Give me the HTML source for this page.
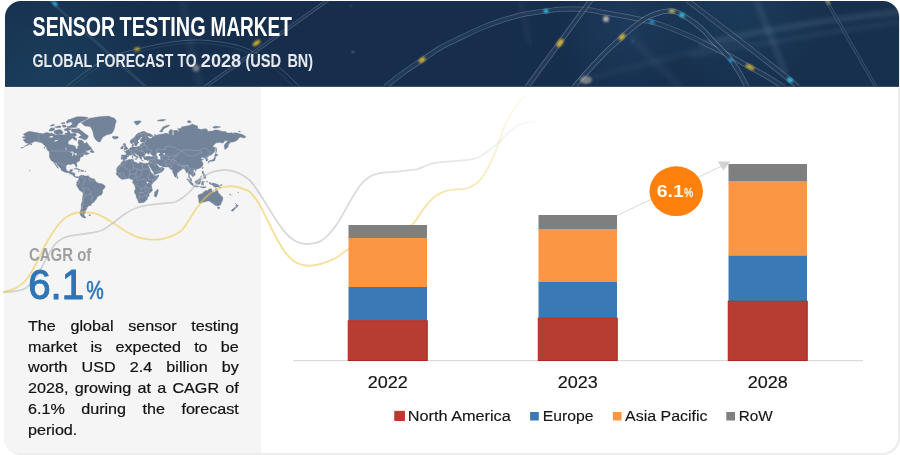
<!DOCTYPE html>
<html lang="en">
<head>
<meta charset="utf-8">
<title>Sensor Testing Market</title>
<style>
html,body{margin:0;padding:0;background:#fff;}
body{width:900px;height:455px;position:relative;overflow:hidden;font-family:"Liberation Sans",sans-serif;}
svg{position:absolute;left:0;top:0;display:block;}
.para{position:absolute;left:28.3px;top:0;width:193.4px;height:455px;transform-origin:0 0;transform:scaleX(1.09);font-size:14.8px;line-height:20.9px;color:#111;-webkit-text-stroke:0.2px #111;}
.para div{position:absolute;left:0;width:193.4px;text-align:justify;text-align-last:justify;white-space:nowrap;height:20.9px;}
.para div.last{text-align-last:left;}
text{font-family:"Liberation Sans",sans-serif;}
</style>
</head>
<body>
<svg width="900" height="455" viewBox="0 0 900 455">
<defs>
  <clipPath id="card"><rect x="4" y="1" width="895" height="453" rx="16" ry="16"/></clipPath>
  <clipPath id="bannerclip"><path d="M5 86.5V17A16 16 0 0 1 21 1H883A16 16 0 0 1 899 17V86.5Z"/></clipPath>
  <linearGradient id="bg" x1="0" y1="0" x2="1" y2="0">
    <stop offset="0" stop-color="#17314f"/>
    <stop offset="0.3" stop-color="#162e4c"/>
    <stop offset="0.55" stop-color="#162d4c"/>
    <stop offset="0.8" stop-color="#17304e"/>
    <stop offset="1" stop-color="#17304d"/>
  </linearGradient>
  <radialGradient id="glowL" cx="50" cy="95" r="110" gradientUnits="userSpaceOnUse">
    <stop offset="0" stop-color="#1d4463" stop-opacity="0.7"/>
    <stop offset="1" stop-color="#1f4a6b" stop-opacity="0"/>
  </radialGradient>
  <radialGradient id="glowT" cx="740" cy="0" r="90" gradientUnits="userSpaceOnUse">
    <stop offset="0" stop-color="#1d4262" stop-opacity="0.6"/>
    <stop offset="1" stop-color="#1f4566" stop-opacity="0"/>
  </radialGradient>
  <radialGradient id="glowM" cx="625" cy="25" r="70" gradientUnits="userSpaceOnUse">
    <stop offset="0" stop-color="#244870" stop-opacity="0.45"/>
    <stop offset="1" stop-color="#244870" stop-opacity="0"/>
  </radialGradient>
  <linearGradient id="fadeY" x1="0" y1="0" x2="530" y2="0" gradientUnits="userSpaceOnUse">
    <stop offset="0" stop-color="#f0c748" stop-opacity="0.56"/>
    <stop offset="0.5" stop-color="#f0c748" stop-opacity="0.56"/>
    <stop offset="0.8" stop-color="#f0c748" stop-opacity="0.5"/>
    <stop offset="0.9" stop-color="#f0c748" stop-opacity="0.36"/>
    <stop offset="1" stop-color="#f0c748" stop-opacity="0.03"/>
  </linearGradient>
  <linearGradient id="fadeG" x1="0" y1="0" x2="540" y2="0" gradientUnits="userSpaceOnUse">
    <stop offset="0" stop-color="#bababa" stop-opacity="0.58"/>
    <stop offset="0.5" stop-color="#bababa" stop-opacity="0.58"/>
    <stop offset="0.7" stop-color="#bababa" stop-opacity="0.5"/>
    <stop offset="0.85" stop-color="#bababa" stop-opacity="0.34"/>
    <stop offset="1" stop-color="#bababa" stop-opacity="0.06"/>
  </linearGradient>
  <filter id="blur2" x="-20%" y="-20%" width="140%" height="140%"><feGaussianBlur stdDeviation="2"/></filter>
  <filter id="blur1" x="-50%" y="-50%" width="200%" height="200%"><feGaussianBlur stdDeviation="1.2"/></filter>
</defs>

<!-- card -->
<rect x="4" y="1" width="896" height="454" rx="17" ry="17" fill="#ededed"/>
<rect x="4" y="1" width="894" height="452" rx="16" ry="16" fill="#ffffff"/>
<g clip-path="url(#card)">
  <rect x="4" y="87" width="257" height="366" fill="#f5f5f5"/>
</g>

<!-- banner -->
<g clip-path="url(#bannerclip)">
  <rect x="4" y="0" width="896" height="87" fill="url(#bg)"/>
  <rect x="4" y="0" width="896" height="87" fill="url(#glowL)"/>
  <rect x="4" y="0" width="896" height="87" fill="url(#glowT)"/>
  <rect x="4" y="0" width="896" height="87" fill="url(#glowM)"/>
  <g id="streaks" fill="none" stroke-linecap="butt"><path d="M700 44 Q800 22 900 12" stroke="#a8c0d8" stroke-opacity="0.13" stroke-width="6" filter="url(#blur2)"/><path d="M690 56 Q800 36 900 22" stroke="#a8c0d8" stroke-opacity="0.08" stroke-width="5" filter="url(#blur2)"/><path d="M756 0 L786 75" stroke="#a8c0d8" stroke-opacity="0.12" stroke-width="6" filter="url(#blur2)"/><path d="M520 0 L530 45" stroke="#a8c0d8" stroke-opacity="0.05" stroke-width="6" filter="url(#blur2)"/><path d="M630 36 L680 87" stroke="#a8c0d8" stroke-opacity="0.05" stroke-width="8" filter="url(#blur2)"/><path d="M580 80 Q660 60 740 40" stroke="#a8c0d8" stroke-opacity="0.05" stroke-width="6" filter="url(#blur2)"/><path d="M182 0 L200 87" stroke="#a8c0d8" stroke-opacity="0.06" stroke-width="8" filter="url(#blur2)"/><path d="M49 0 L146 87" stroke="#cfe0f0" stroke-opacity="0.16" stroke-width="2.4"/><path d="M49 0 L146 87" stroke="#172f4d" stroke-opacity="0.8" stroke-width="1.0"/><path d="M66.0 87.0C69.2 84.5 78.7 76.5 85.0 72.0C91.3 67.5 98.2 63.1 104.0 60.0C109.8 56.9 114.5 55.3 120.0 53.5C125.5 51.7 130.3 50.6 137.0 49.0C143.7 47.4 152.8 45.3 160.0 44.0C167.2 42.7 173.3 41.7 180.0 41.0C186.7 40.3 193.3 39.8 200.0 40.0C206.7 40.2 213.3 41.0 220.0 42.0C226.7 43.0 233.3 43.8 240.0 46.0C246.7 48.2 253.3 51.3 260.0 55.0C266.7 58.7 273.3 62.7 280.0 68.0C286.7 73.3 296.7 83.8 300.0 87.0" stroke="#cfe0f0" stroke-opacity="0.22" stroke-width="1.0"/><path d="M71.0 87.0C74.0 84.8 83.0 77.7 89.0 73.5C95.0 69.3 101.3 65.0 107.0 62.0C112.7 59.0 117.5 57.2 123.0 55.5C128.5 53.8 133.5 53.0 140.0 51.5C146.5 50.0 155.2 47.8 162.0 46.5C168.8 45.2 174.7 44.4 181.0 43.8C187.3 43.2 193.7 42.8 200.0 43.0C206.3 43.2 212.7 44.0 219.0 45.0C225.3 46.0 231.7 46.9 238.0 49.0C244.3 51.1 250.7 54.0 257.0 57.5C263.3 61.0 269.8 65.1 276.0 70.0C282.2 74.9 291.0 84.2 294.0 87.0" stroke="#cfe0f0" stroke-opacity="0.1" stroke-width="1.0"/><path d="M205 87 L328 0" stroke="#cfe0f0" stroke-opacity="0.26" stroke-width="3.4"/><path d="M205 87 L328 0" stroke="#172f4d" stroke-opacity="0.8" stroke-width="2.0"/><path d="M385.0 87.0C388.0 84.7 396.8 77.5 403.0 73.0C409.2 68.5 415.8 64.2 422.0 60.0C428.2 55.8 433.7 51.7 440.0 48.0C446.3 44.3 453.3 41.2 460.0 38.0C466.7 34.8 473.3 31.3 480.0 28.5C486.7 25.7 492.8 23.3 500.0 21.0C507.2 18.7 515.3 16.2 523.0 14.5C530.7 12.8 539.8 11.9 546.0 11.0C552.2 10.1 555.2 9.6 560.0 9.3C564.8 9.0 570.0 8.9 575.0 9.0C580.0 9.1 585.8 9.5 590.0 10.0C594.2 10.5 594.0 10.9 600.0 12.0C606.0 13.1 617.3 14.8 626.0 16.5C634.7 18.2 645.3 20.3 652.0 22.0C658.7 23.7 661.3 24.8 666.0 26.5C670.7 28.2 675.2 30.0 680.0 32.0C684.8 34.0 690.0 36.2 695.0 38.5C700.0 40.8 704.2 43.1 710.0 46.0C715.8 48.9 723.7 52.7 730.0 56.0C736.3 59.3 742.0 62.7 748.0 66.0C754.0 69.3 760.0 72.5 766.0 76.0C772.0 79.5 781.0 85.2 784.0 87.0" stroke="#cfe0f0" stroke-opacity="0.3" stroke-width="5.0"/><path d="M385.0 87.0C388.0 84.7 396.8 77.5 403.0 73.0C409.2 68.5 415.8 64.2 422.0 60.0C428.2 55.8 433.7 51.7 440.0 48.0C446.3 44.3 453.3 41.2 460.0 38.0C466.7 34.8 473.3 31.3 480.0 28.5C486.7 25.7 492.8 23.3 500.0 21.0C507.2 18.7 515.3 16.2 523.0 14.5C530.7 12.8 539.8 11.9 546.0 11.0C552.2 10.1 555.2 9.6 560.0 9.3C564.8 9.0 570.0 8.9 575.0 9.0C580.0 9.1 585.8 9.5 590.0 10.0C594.2 10.5 594.0 10.9 600.0 12.0C606.0 13.1 617.3 14.8 626.0 16.5C634.7 18.2 645.3 20.3 652.0 22.0C658.7 23.7 661.3 24.8 666.0 26.5C670.7 28.2 675.2 30.0 680.0 32.0C684.8 34.0 690.0 36.2 695.0 38.5C700.0 40.8 704.2 43.1 710.0 46.0C715.8 48.9 723.7 52.7 730.0 56.0C736.3 59.3 742.0 62.7 748.0 66.0C754.0 69.3 760.0 72.5 766.0 76.0C772.0 79.5 781.0 85.2 784.0 87.0" stroke="#172f4d" stroke-opacity="0.8" stroke-width="3.6"/><path d="M527 87 L591 0" stroke="#cfe0f0" stroke-opacity="0.34" stroke-width="5.0"/><path d="M527 87 L591 0" stroke="#172f4d" stroke-opacity="0.8" stroke-width="3.6"/><path d="M574.0 87.0C576.2 84.5 582.7 76.8 587.0 72.0C591.3 67.2 596.0 62.2 600.0 58.0C604.0 53.8 607.3 50.5 611.0 47.0C614.7 43.5 618.7 40.0 622.0 37.0C625.3 34.0 628.0 31.5 631.0 29.0C634.0 26.5 636.8 24.2 640.0 22.0C643.2 19.8 646.7 17.6 650.0 16.0C653.3 14.4 657.3 13.3 660.0 12.5C662.7 11.7 664.0 11.4 666.0 11.2C668.0 10.9 670.2 10.8 672.0 11.0C673.8 11.2 675.3 11.6 677.0 12.3C678.7 13.0 680.0 13.9 682.0 15.0C684.0 16.1 686.7 17.5 689.0 19.0C691.3 20.5 693.5 22.0 696.0 24.0C698.5 26.0 701.3 28.3 704.0 31.0C706.7 33.7 709.0 36.8 712.0 40.0C715.0 43.2 718.8 46.7 722.0 50.0C725.2 53.3 728.2 56.3 731.0 60.0C733.8 63.7 736.3 67.5 739.0 72.0C741.7 76.5 745.7 84.5 747.0 87.0" stroke="#cfe0f0" stroke-opacity="0.36" stroke-width="5.0"/><path d="M574.0 87.0C576.2 84.5 582.7 76.8 587.0 72.0C591.3 67.2 596.0 62.2 600.0 58.0C604.0 53.8 607.3 50.5 611.0 47.0C614.7 43.5 618.7 40.0 622.0 37.0C625.3 34.0 628.0 31.5 631.0 29.0C634.0 26.5 636.8 24.2 640.0 22.0C643.2 19.8 646.7 17.6 650.0 16.0C653.3 14.4 657.3 13.3 660.0 12.5C662.7 11.7 664.0 11.4 666.0 11.2C668.0 10.9 670.2 10.8 672.0 11.0C673.8 11.2 675.3 11.6 677.0 12.3C678.7 13.0 680.0 13.9 682.0 15.0C684.0 16.1 686.7 17.5 689.0 19.0C691.3 20.5 693.5 22.0 696.0 24.0C698.5 26.0 701.3 28.3 704.0 31.0C706.7 33.7 709.0 36.8 712.0 40.0C715.0 43.2 718.8 46.7 722.0 50.0C725.2 53.3 728.2 56.3 731.0 60.0C733.8 63.7 736.3 67.5 739.0 72.0C741.7 76.5 745.7 84.5 747.0 87.0" stroke="#172f4d" stroke-opacity="0.8" stroke-width="3.6"/><path d="M687 0 L700 10 Q745 44 790 80 L798 87" stroke="#cfe0f0" stroke-opacity="0.3" stroke-width="5.0"/><path d="M687 0 L700 10 Q745 44 790 80 L798 87" stroke="#172f4d" stroke-opacity="0.8" stroke-width="3.6"/><path d="M826 0 L876 87" stroke="#cfe0f0" stroke-opacity="0.22" stroke-width="3.2"/><path d="M826 0 L876 87" stroke="#172f4d" stroke-opacity="0.8" stroke-width="1.8000000000000003"/><ellipse cx="55" cy="3.6" rx="3" ry="1.6" fill="#35c6ea" opacity="0.95" transform="rotate(40 55 3.6)" filter="url(#blur1)"/><ellipse cx="137" cy="49" rx="3.0" ry="1.8" fill="#d4b234" opacity="0.9" transform="rotate(-15 137 49)" filter="url(#blur1)"/><ellipse cx="256.5" cy="43" rx="4.4" ry="2.1" fill="#dcbc36" opacity="0.95" transform="rotate(-35 256.5 43)" filter="url(#blur1)"/><ellipse cx="196" cy="68" rx="3.5" ry="3.5" fill="#d8c8b8" opacity="0.45" transform="rotate(0 196 68)" filter="url(#blur1)"/><ellipse cx="353" cy="52" rx="1.0" ry="1.0" fill="#b0c0d8" opacity="0.7" transform="rotate(0 353 52)" filter="url(#blur1)"/><ellipse cx="351" cy="6" rx="0.8" ry="0.8" fill="#b0c0d8" opacity="0.5" transform="rotate(0 351 6)" filter="url(#blur1)"/><ellipse cx="422" cy="60" rx="3.6" ry="2.2" fill="#dcbc36" opacity="0.95" transform="rotate(-35 422 60)" filter="url(#blur1)"/><ellipse cx="546" cy="11" rx="2.6" ry="2.0" fill="#35c6ea" opacity="0.95" transform="rotate(0 546 11)" filter="url(#blur1)"/><ellipse cx="560" cy="43" rx="4.6" ry="2.4" fill="#dcbc36" opacity="0.95" transform="rotate(-55 560 43)" filter="url(#blur1)"/><ellipse cx="606" cy="19" rx="3" ry="3" fill="#f0dcc8" opacity="0.7" transform="rotate(0 606 19)" filter="url(#blur1)"/><ellipse cx="622" cy="37" rx="3.8" ry="2.2" fill="#dcbc36" opacity="0.95" transform="rotate(-45 622 37)" filter="url(#blur1)"/><ellipse cx="652" cy="22" rx="2.6" ry="1.8" fill="#2aa8e8" opacity="0.95" transform="rotate(20 652 22)" filter="url(#blur1)"/><ellipse cx="633" cy="41.6" rx="0.9" ry="0.9" fill="#2aa8e8" opacity="0.8" transform="rotate(0 633 41.6)" filter="url(#blur1)"/><ellipse cx="586" cy="80" rx="6" ry="4" fill="#f0dcc8" opacity="0.45" transform="rotate(0 586 80)" filter="url(#blur1)"/><ellipse cx="672" cy="11" rx="3.5" ry="1.8" fill="#e8d060" opacity="0.8" transform="rotate(5 672 11)" filter="url(#blur1)"/><ellipse cx="682" cy="15" rx="3" ry="2.0" fill="#35c6ea" opacity="0.95" transform="rotate(30 682 15)" filter="url(#blur1)"/><ellipse cx="731" cy="60" rx="2.6" ry="1.7" fill="#2aa8e8" opacity="0.95" transform="rotate(50 731 60)" filter="url(#blur1)"/><ellipse cx="750" cy="67" rx="4.8" ry="2.0" fill="#d4b234" opacity="0.95" transform="rotate(28 750 67)" filter="url(#blur1)"/><ellipse cx="790" cy="80" rx="3.2" ry="2.2" fill="#35c6ea" opacity="0.95" transform="rotate(30 790 80)" filter="url(#blur1)"/><ellipse cx="828" cy="2" rx="3" ry="1.6" fill="#e8d060" opacity="0.6" transform="rotate(60 828 2)" filter="url(#blur1)"/></g>
</g>
<rect x="5" y="86" width="894" height="1" fill="#102038" opacity="0.6"/>

<!-- title -->
<text y="36" font-size="27" font-weight="bold" fill="#ffffff"><tspan x="32.6" textLength="82.6" lengthAdjust="spacingAndGlyphs">SENSOR</tspan> <tspan x="119.6" textLength="86" lengthAdjust="spacingAndGlyphs">TESTING</tspan> <tspan x="210.6" textLength="81.2" lengthAdjust="spacingAndGlyphs">MARKET</tspan></text>
<text y="66.8" font-size="18.6" font-weight="bold" fill="#e6e9ee"><tspan x="32.6" textLength="59.4" lengthAdjust="spacingAndGlyphs">GLOBAL</tspan> <tspan x="96" textLength="77.2" lengthAdjust="spacingAndGlyphs">FORECAST</tspan> <tspan x="177.6" textLength="19" lengthAdjust="spacingAndGlyphs">TO</tspan> <tspan x="200.8" textLength="40.4" lengthAdjust="spacingAndGlyphs">2028</tspan> <tspan x="245.4" textLength="35.8" lengthAdjust="spacingAndGlyphs">(USD</tspan> <tspan x="287.4" textLength="25.6" lengthAdjust="spacingAndGlyphs">BN)</tspan></text>

<!-- world map -->
<path d="M22.0 137.1L25.8 136.2L23.2 134.4L25.8 132.7L29.2 131.3L33.2 132.1L38.9 133.1L42.6 133.7L47.0 132.5L49.5 133.2L52.0 133.2L55.1 134.7L59.5 134.7L64.5 134.7L67.0 134.2L67.6 131.1L69.5 131.6L70.8 133.7L73.9 133.2L75.8 133.2L76.4 135.7L73.2 136.7L72.0 138.6L68.9 140.8L67.9 143.0L69.2 144.7L72.0 145.1L75.4 146.3L75.8 148.3L77.0 149.2L77.6 148.7L77.6 146.7L78.9 145.1L78.2 143.4L78.2 142.1L78.6 140.1L81.1 140.1L83.2 141.3L83.6 143.0L85.1 143.6L86.4 141.9L88.2 144.3L89.5 146.3L92.0 148.3L90.1 149.9L86.4 150.2L85.1 151.0L82.9 152.5L85.1 151.2L86.7 151.1L86.4 152.5L88.9 153.2L89.5 152.8L88.9 153.9L87.6 154.3L85.8 155.0L85.1 153.9L83.2 155.0L83.2 156.3L80.8 157.1L79.8 158.8L79.8 160.7L78.2 161.6L76.4 163.1L77.0 165.9L76.8 167.0L76.1 166.9L75.2 165.3L74.5 164.0L73.2 163.8L71.4 163.9L71.2 164.7L70.1 164.5L68.2 164.3L66.4 165.3L66.1 166.9L65.9 168.7L67.0 170.8L67.9 171.3L69.8 171.1L70.4 169.6L72.6 169.3L72.3 171.1L71.7 172.6L73.2 172.7L74.9 173.2L74.8 175.6L75.8 176.8L77.3 176.5L78.6 177.0L78.2 177.6L77.0 177.7L76.1 177.5L75.1 177.2L73.6 176.2L72.3 174.4L69.8 173.8L68.2 172.6L66.7 172.8L64.5 172.0L61.4 170.5L61.1 169.0L59.5 167.2L57.0 164.7L56.4 163.2L55.3 163.1L55.4 164.0L57.0 165.9L58.2 167.8L58.6 168.4L57.0 167.5L55.8 165.6L54.5 163.7L53.8 162.4L52.9 161.5L51.7 161.1L50.8 159.6L49.6 157.8L49.3 156.1L49.5 153.2L49.1 151.5L50.1 151.0L48.9 150.2L47.0 149.1L45.8 146.7L44.5 145.5L42.6 143.4L40.8 142.6L38.2 142.1L35.8 141.3L33.9 141.7L32.0 143.0L30.8 143.4L28.2 145.1L25.1 146.3L23.9 146.7L27.0 144.7L28.6 143.2L25.8 143.0L23.9 140.8L23.2 139.5L26.4 138.6L23.9 138.1ZM81.4 122.9L84.5 121.0L89.5 118.3L98.9 116.8L108.2 116.1L114.5 118.3L116.4 121.0L115.1 124.8L114.5 128.3L113.2 131.6L111.4 133.7L107.0 134.7L103.2 136.7L101.4 139.5L100.1 142.1L98.2 141.7L96.4 140.4L94.8 138.6L93.6 135.7L93.2 132.7L92.0 129.5L90.1 126.6L85.1 126.0L82.6 124.2ZM77.0 128.9L79.5 129.5L82.6 131.6L85.1 133.7L88.2 135.7L88.2 137.1L86.4 139.5L84.5 139.9L82.0 138.6L78.2 137.6L81.4 135.2L78.2 132.7L73.9 132.7L71.4 131.6L71.4 128.9L73.9 128.9ZM70.8 125.4L77.0 126.0L78.2 123.6L82.0 121.6L87.0 118.9L88.2 117.5L83.2 116.8L77.0 116.8L70.8 118.9L69.5 121.0L72.6 123.6ZM53.9 131.1L57.0 130.0L59.5 129.5L61.4 130.0L63.2 132.7L61.4 134.2L57.0 134.2L54.5 133.2ZM48.9 130.5L50.8 128.0L54.5 128.3L54.5 130.0L52.0 131.1L49.5 131.1ZM67.0 127.2L70.1 127.8L77.0 127.2L75.8 126.0L70.8 125.4ZM54.5 127.2L58.2 126.0L60.8 126.0L60.8 127.4L57.0 127.8ZM64.5 128.9L67.6 128.3L69.5 129.5L67.6 131.1L64.5 130.5ZM67.0 123.6L70.8 121.6L72.0 119.6L68.2 119.6L66.4 121.6ZM89.9 151.9L92.0 149.1L92.3 150.2L93.9 151.4L93.9 152.7L92.0 152.6ZM72.6 137.1L74.5 136.7L76.7 138.6L74.5 139.9L73.2 139.0ZM73.9 169.0L75.8 168.3L78.2 168.7L80.6 170.1L78.6 170.3L78.2 169.6L75.8 169.0ZM80.4 171.1L81.4 170.2L83.2 170.3L84.2 171.1L82.6 171.5ZM78.6 177.0L79.8 175.7L82.0 175.0L82.3 175.6L83.2 175.0L84.5 175.9L87.0 175.9L88.2 175.8L89.5 177.0L91.4 178.5L93.2 178.6L94.8 179.4L95.8 181.4L97.0 182.6L99.5 183.5L102.0 183.7L103.9 184.9L105.1 186.1L105.1 187.2L103.9 188.7L102.6 190.2L102.6 192.6L101.4 195.0L99.5 195.6L97.0 197.1L96.7 198.7L95.1 200.6L93.6 202.5L92.0 203.2L91.1 204.2L91.4 205.2L88.2 205.9L87.9 207.2L86.4 207.2L87.0 208.3L86.1 210.1L84.8 210.8L85.9 211.9L83.9 214.5L84.2 215.7L86.1 217.5L84.5 218.1L82.6 217.3L80.8 215.7L79.8 213.0L80.4 210.8L81.4 207.9L81.1 204.5L82.3 201.2L82.6 198.1L83.1 193.8L82.9 192.8L82.0 192.0L79.5 190.2L78.6 188.7L77.3 186.4L76.2 184.9L77.0 183.7L76.4 182.6L77.0 181.4L77.9 180.8L78.7 179.7L78.6 177.9ZM123.2 160.3L125.8 160.7L128.9 159.6L133.2 159.3L133.9 161.5L133.2 161.6L136.4 162.6L138.9 163.8L139.5 162.2L141.4 162.4L142.6 162.9L145.1 163.4L147.3 163.3L147.3 164.0L148.2 165.9L149.2 167.8L150.1 169.6L150.3 171.1L151.4 172.9L153.6 174.7L154.1 175.3L155.1 175.9L157.0 175.5L159.0 175.0L158.9 175.9L157.6 177.9L156.4 179.7L154.5 181.1L152.9 183.0L151.7 184.6L151.4 186.1L152.0 188.1L152.4 190.5L150.8 192.3L148.9 193.8L149.2 196.2L147.6 197.1L147.5 199.0L146.1 200.6L143.9 202.4L140.8 202.7L139.5 203.1L138.4 202.5L138.2 201.2L137.3 199.1L136.4 197.8L136.1 195.3L134.5 192.6L134.5 190.8L135.6 189.0L135.2 187.2L134.6 185.5L133.9 184.2L132.6 182.6L132.9 180.8L133.1 179.7L132.3 179.4L130.8 179.5L129.8 178.3L127.6 178.6L125.8 179.1L124.2 179.0L122.3 179.4L121.4 179.1L119.8 177.9L118.7 176.9L117.8 175.7L116.6 174.8L116.1 173.4L116.7 172.3L116.8 170.8L116.4 169.6L117.0 168.0L117.9 166.5L118.9 165.5L120.0 164.8L120.9 164.2L120.9 163.1L121.7 161.9L122.8 161.5ZM157.8 189.0L158.4 191.1L157.9 192.0L157.3 194.4L156.4 196.8L155.1 197.1L154.2 195.6L154.7 193.8L154.5 192.0L155.8 191.2L157.0 189.9ZM121.4 159.5L121.1 158.3L121.5 156.4L121.2 155.4L122.0 154.9L124.8 155.1L126.1 155.0L126.2 153.2L125.4 152.3L124.1 151.5L126.1 151.2L125.9 150.5L127.1 150.6L127.9 150.1L128.6 149.5L129.5 148.7L130.0 147.9L131.4 147.5L132.3 147.1L132.1 145.9L132.1 144.7L133.6 144.1L133.6 145.5L133.1 146.3L133.9 147.1L135.8 147.1L138.6 146.6L140.1 146.1L140.1 144.7L140.8 144.1L142.2 144.5L141.7 143.0L144.5 142.4L145.8 142.1L142.6 142.0L141.1 142.1L140.3 141.3L140.4 139.5L142.6 137.6L142.0 136.9L140.8 137.1L140.1 138.6L137.9 140.4L137.8 141.7L138.8 142.6L137.3 144.3L137.0 145.4L135.9 145.9L135.1 145.9L134.8 145.1L134.1 143.4L133.6 142.6L132.0 143.8L130.6 143.2L130.1 141.3L130.8 139.9L132.3 139.0L133.9 137.8L135.1 136.2L136.4 134.4L138.2 133.1L140.1 132.5L142.6 131.6L144.5 131.6L146.4 132.5L147.6 133.3L149.5 133.5L152.6 135.2L152.6 136.4L150.8 136.7L148.2 136.0L147.6 136.2L148.9 138.3L150.1 138.6L152.0 138.0L152.3 136.7L154.5 136.4L154.5 134.4L155.8 134.7L155.8 135.9L157.0 135.0L160.1 134.2L161.4 134.2L164.5 133.7L165.1 132.9L167.6 133.5L169.8 134.4L168.9 133.2L168.9 131.6L170.1 129.7L172.3 129.7L172.5 131.6L172.3 134.2L172.9 135.7L173.2 135.2L173.9 133.7L173.2 130.5L174.5 130.5L175.8 130.2L177.6 130.5L178.9 132.1L178.9 130.5L177.6 128.8L181.4 128.3L181.4 126.9L186.4 126.0L189.5 125.4L192.2 123.9L193.9 124.8L197.6 126.0L197.6 128.3L194.5 128.9L197.6 128.6L201.4 129.5L204.5 128.7L206.4 128.9L207.6 130.0L207.6 131.6L210.1 131.1L212.6 131.1L214.5 130.0L217.6 130.0L220.8 130.9L222.6 131.6L225.8 131.6L227.0 133.0L229.5 133.0L232.0 132.7L233.2 133.7L233.9 132.7L237.0 132.9L239.5 133.7L242.0 134.2L244.5 135.7L245.9 136.7L244.5 138.1L242.0 137.6L240.1 137.1L238.9 138.1L237.6 139.9L235.1 141.3L233.2 142.1L230.8 142.1L228.9 143.9L228.2 145.5L228.2 146.7L227.0 147.9L225.8 149.1L224.8 149.5L224.5 147.9L224.2 145.5L225.1 143.9L227.0 141.7L228.9 140.4L227.0 140.8L224.5 140.8L223.9 142.6L222.0 143.0L220.1 142.4L216.4 142.8L214.5 144.3L212.6 146.7L213.9 147.1L215.1 147.9L214.8 149.5L214.5 151.7L213.2 153.2L211.7 154.6L210.1 155.4L208.9 155.7L208.1 156.8L206.7 157.6L207.8 159.5L207.8 160.5L206.7 161.1L205.9 160.9L206.1 159.5L205.1 158.8L205.1 157.6L203.2 158.1L202.6 156.9L200.8 158.1L201.4 159.1L203.6 159.3L202.0 160.1L201.6 160.8L202.6 162.4L203.2 163.4L202.9 165.0L201.7 166.9L200.1 168.1L198.2 168.7L196.4 169.3L195.8 170.0L195.1 169.3L193.6 169.9L193.1 170.8L195.0 172.9L195.3 175.0L193.9 175.9L192.6 176.9L192.6 176.0L191.4 175.6L191.1 174.8L190.0 174.1L189.5 174.2L189.1 175.9L189.8 177.6L191.4 178.8L191.7 180.5L192.0 181.2L190.4 180.4L189.7 178.5L188.4 177.3L188.7 175.6L188.1 173.2L187.8 172.2L186.7 172.7L185.9 172.3L185.9 171.1L184.5 169.3L183.9 168.7L182.6 169.1L181.4 169.4L181.1 170.2L180.1 170.5L178.4 172.2L177.1 172.9L177.1 174.4L176.9 176.0L175.9 176.9L175.4 177.3L174.7 176.5L173.8 174.4L172.9 172.6L172.5 170.8L172.4 169.6L172.0 169.6L171.1 169.7L170.1 168.8L169.5 168.0L168.9 167.3L168.6 166.9L165.8 167.0L163.2 166.9L162.6 165.9L161.4 166.0L159.5 165.4L158.2 164.0L157.5 163.8L157.0 164.3L158.2 166.1L158.4 166.7L159.0 166.5L159.2 167.5L160.8 167.8L162.1 166.4L162.3 167.5L163.7 168.1L164.4 168.7L163.1 170.8L161.4 172.0L159.5 172.9L157.0 173.8L155.1 174.5L154.1 174.6L153.7 173.5L153.6 172.3L152.0 170.2L151.2 168.7L150.2 167.2L148.9 165.3L148.8 164.3L148.4 165.3L147.4 164.0L147.3 163.3L148.4 163.2L148.9 162.1L149.5 160.5L149.5 159.6L148.2 159.9L147.0 160.0L146.1 159.9L144.5 159.7L144.1 159.1L143.6 158.1L143.4 157.4L145.1 156.8L146.7 156.6L148.9 156.1L150.8 156.8L152.9 156.4L152.9 155.6L151.4 154.5L150.4 153.9L150.8 152.5L148.9 153.0L149.2 153.9L147.9 154.3L147.6 153.2L146.4 152.8L145.6 153.7L144.9 154.8L144.4 155.7L145.0 156.5L143.4 156.9L142.0 156.9L141.9 157.4L141.2 157.2L141.6 158.3L142.0 158.8L141.4 159.1L141.4 159.8L140.8 159.6L140.3 158.8L139.5 157.6L139.1 156.4L138.9 155.8L137.6 155.2L136.6 154.3L135.8 153.9L135.6 153.5L134.7 153.7L134.8 154.5L135.6 155.1L136.1 155.9L137.0 156.1L138.6 157.3L137.6 157.1L137.4 158.1L137.0 158.8L136.8 158.7L137.0 157.8L136.4 157.3L135.8 156.8L134.6 156.2L133.6 155.4L133.2 154.6L132.3 154.4L131.7 154.8L130.8 155.3L129.5 155.0L129.0 155.4L129.0 156.2L127.5 156.8L126.8 157.8L127.1 158.3L126.6 159.0L125.8 159.6L124.2 159.7L123.5 160.1L123.1 159.6L122.4 159.3ZM123.6 150.2L125.1 149.7L127.8 149.3L127.3 149.1L128.1 148.2L127.2 147.9L126.9 147.1L126.1 146.3L125.8 145.5L125.1 145.5L125.8 144.3L124.5 144.1L125.1 143.3L123.9 143.3L123.2 144.3L123.6 145.5L123.9 146.3L125.0 146.5L125.1 147.5L124.2 147.7L124.3 148.5L123.8 148.9L124.9 149.2L124.3 149.5ZM120.8 148.9L122.0 148.9L123.1 148.5L123.2 147.1L123.4 146.3L122.3 146.1L121.7 146.7L120.8 147.0L121.1 147.8L120.6 148.6ZM112.0 137.1L113.2 136.3L115.8 136.5L117.8 136.4L118.5 137.6L117.6 138.3L115.4 139.1L113.2 138.6L112.9 137.8ZM133.9 121.6L136.4 121.0L139.5 120.7L141.4 121.6L139.5 123.2L137.9 124.8L136.4 124.8L135.1 123.6ZM159.5 131.6L161.4 129.5L162.6 127.2L166.4 125.6L169.8 125.0L168.2 126.6L164.5 128.3L162.6 130.5L162.6 131.9L160.8 131.8ZM187.0 122.0L188.9 120.2L191.4 121.9L189.5 123.1ZM212.6 127.2L215.8 126.0L220.8 126.9L217.6 127.8L214.5 128.3ZM157.0 120.6L161.4 119.6L165.8 119.6L163.2 121.0L159.5 121.0ZM215.8 146.9L216.5 148.7L216.7 150.8L216.2 152.5L215.8 153.2L215.8 151.0L215.6 148.7ZM214.5 156.1L215.4 153.6L217.6 154.6L217.9 155.2L216.4 156.1L215.1 156.4ZM215.1 156.5L215.8 157.8L215.1 159.1L214.8 160.5L213.6 161.0L212.5 161.1L211.7 161.8L211.4 161.1L209.5 161.5L208.9 161.5L208.9 163.2L208.2 162.4L208.2 161.8L209.5 160.5L211.7 160.3L212.6 159.5L213.6 159.1L214.5 157.8L214.5 156.8ZM202.6 167.0L203.1 167.5L202.5 169.0L202.1 168.4ZM195.1 170.2L196.4 170.3L195.8 171.2L194.9 170.8ZM202.3 171.1L203.4 171.1L203.2 172.6L204.5 174.1L204.5 174.7L202.9 173.9L202.3 173.5L202.0 172.6ZM203.2 175.3L205.1 174.8L205.4 176.2L203.9 176.6ZM203.2 177.9L204.2 177.0L205.4 176.3L206.1 177.6L205.4 178.5L204.5 178.2ZM200.3 177.0L201.7 175.6L201.4 176.2L200.6 177.2ZM177.0 176.3L178.1 177.6L177.6 178.5L177.0 178.5L176.8 177.3ZM186.6 178.8L187.9 179.0L189.7 180.5L191.8 182.6L193.2 183.7L193.1 185.4L192.3 185.3L190.8 184.2L189.7 182.6L188.7 181.0L187.6 180.0ZM192.8 185.8L194.8 185.8L196.4 185.8L197.6 186.1L198.6 186.5L198.4 187.1L196.4 186.8L194.5 186.5L193.2 186.3ZM195.1 181.1L196.4 181.0L197.6 180.1L199.2 179.1L200.1 177.9L201.4 179.0L200.8 179.7L200.8 181.4L200.4 182.6L199.8 184.0L198.6 184.3L197.0 184.0L195.9 183.6L195.1 182.3ZM201.7 185.2L201.4 183.7L201.9 181.7L202.6 181.3L204.5 181.4L205.1 181.0L203.9 181.8L202.3 182.0L202.9 182.6L204.1 182.6L203.1 183.2L203.6 184.0L203.9 185.1L202.9 184.7L202.6 183.6L202.2 183.7L202.3 185.2ZM208.9 182.5L210.8 182.5L211.4 183.9L212.9 183.0L215.1 183.5L217.6 184.5L219.2 185.5L219.0 186.1L221.1 188.0L219.5 187.8L218.2 186.8L216.7 187.0L215.8 187.4L213.9 186.7L213.2 185.5L211.7 184.6L210.1 184.3L209.5 183.6ZM199.5 186.8L201.4 186.8L203.9 186.8L206.4 186.8L204.5 187.9L202.0 187.7ZM206.7 180.8L207.4 181.4L207.0 182.5L206.7 181.7ZM219.8 185.2L222.0 184.4L222.2 185.1L220.8 185.7ZM197.9 195.0L198.2 197.5L198.9 200.0L198.9 202.2L199.5 203.2L200.8 203.2L202.0 202.5L204.5 201.9L205.8 201.4L207.6 201.1L209.2 200.9L210.8 201.9L211.7 203.1L212.3 203.5L213.1 201.9L213.2 203.7L214.3 204.5L215.4 205.4L216.7 205.7L218.2 205.9L219.5 205.2L220.8 204.7L221.4 202.5L222.5 200.6L222.9 198.7L222.6 197.1L221.4 195.9L220.4 195.0L219.5 193.8L218.4 193.2L218.2 192.0L217.8 190.8L216.8 190.4L216.1 188.3L215.5 189.6L215.4 191.4L214.8 192.3L213.9 192.2L212.6 191.3L211.7 190.8L212.0 189.2L211.4 189.1L209.8 188.7L208.9 189.2L208.2 189.9L207.9 190.8L207.0 190.8L206.4 190.2L205.4 190.5L204.5 191.6L203.4 192.0L203.2 192.9L201.4 193.8L199.8 194.2L198.6 194.9ZM217.4 207.0L219.6 207.1L219.5 208.6L218.6 209.1L217.8 208.3ZM234.9 202.9L236.1 203.9L237.0 204.9L238.4 205.0L237.6 206.1L237.5 206.9L236.6 207.7L236.2 206.6L235.6 206.1L236.2 205.2L236.1 204.3ZM235.0 206.9L235.9 207.7L235.0 209.0L234.1 209.6L233.7 210.8L232.2 211.2L231.1 210.8L232.0 209.6L233.6 208.6L234.5 207.6ZM229.5 193.8L231.4 195.2L231.1 195.3L229.5 194.2ZM237.8 192.2L238.6 192.3L238.4 192.8L237.8 192.6ZM29.5 170.0L30.2 170.5L29.7 170.9L29.4 170.4ZM238.6 131.1L240.4 131.1L240.4 131.7L238.6 131.7ZM88.9 214.8L90.8 214.8L90.4 215.5L88.9 215.4ZM132.3 156.8L133.1 156.8L133.0 158.0L132.3 158.1ZM132.4 155.4L132.9 155.4L132.9 156.4L132.4 156.3ZM134.8 158.8L136.7 158.7L136.4 159.7L134.9 159.1ZM141.7 160.4L143.4 160.6L143.2 160.8L141.8 160.7ZM147.2 160.8L148.6 160.4L148.2 160.9L147.3 161.0ZM30.4 144.0L31.9 143.9L31.7 144.7L30.4 144.9ZM46.8 149.6L48.9 150.1L49.8 151.4L48.2 151.0ZM43.9 147.1L44.7 147.1L45.0 148.6L44.2 147.9ZM86.7 150.3L88.4 150.8L87.0 150.8ZM78.1 171.2L79.3 171.2L79.2 171.5L78.1 171.4ZM85.0 171.1L86.0 171.2L85.9 171.5L85.0 171.4ZM67.3 128.3L70.4 128.3L70.8 129.7L68.6 130.5L67.3 129.7ZM64.8 133.2L67.0 132.9L67.3 134.1L65.4 134.2ZM62.0 125.3L65.8 125.3L66.1 126.9L63.2 127.2ZM66.7 126.5L68.6 126.6L68.2 127.5L67.0 127.4ZM50.1 125.8L52.6 124.4L54.5 124.4L53.9 125.8L51.4 126.2ZM60.8 123.2L64.5 122.3L65.1 123.6L62.6 124.1ZM76.4 128.9L79.5 128.6L79.2 129.7L77.0 129.8ZM75.1 139.7L77.0 139.6L77.0 140.2L75.4 140.2ZM20.8 147.8L23.2 147.0L23.6 147.5L21.1 148.2Z" fill="#738399" stroke="#738399" stroke-width="0.4" stroke-linejoin="round"/>
<path d="M38.9 133.1L38.9 141.9L40.8 142.6M50.1 151.0L67.6 151.0L71.4 151.7L74.2 152.8L75.4 153.9L75.4 156.1L77.6 155.1L79.5 154.4L80.3 153.9L82.6 153.9L83.9 152.3L84.8 153.6M53.8 162.4L57.6 163.2L60.4 162.9L62.0 164.3L64.5 165.3L66.1 166.6M69.5 173.5L70.1 171.5L71.4 171.5L71.8 172.6M78.7 177.4L78.9 177.0M82.0 175.0L81.7 176.8L83.2 177.9L84.8 178.5L85.1 181.3L83.2 182.0L83.2 184.4L81.4 186.1L82.9 188.4L83.9 188.4L86.2 187.8L89.5 189.9L90.8 191.7L91.1 193.8L90.8 195.0L92.9 197.1L91.1 200.0L93.6 202.4M89.5 177.0L88.9 179.1L89.5 181.1L91.4 180.8L93.2 180.7L94.7 179.7M77.0 184.0L77.6 184.9L79.9 182.1L78.9 181.7L77.8 181.2M82.9 192.8L83.6 192.3L84.0 193.8L85.0 195.5L84.3 196.8L83.4 200.6L82.9 203.5L82.3 206.6L82.0 210.8L81.7 214.1L84.2 215.5M83.6 192.3L83.9 188.4M85.0 195.5L87.9 195.1L90.8 193.8M90.8 198.3L92.9 197.1M116.4 169.6L118.9 169.4L118.9 168.4L119.5 166.5L121.6 165.7L121.6 164.9M121.6 165.7L124.0 167.2L129.6 170.8L130.6 170.5L134.5 168.1L135.9 168.6L142.0 170.5L142.0 172.8M125.9 160.8L126.1 162.8L121.6 164.9M132.3 159.5L131.7 161.8L132.9 163.8L133.2 167.5L134.5 168.1M142.6 163.1L142.6 169.0L150.1 169.0M142.0 169.0L142.0 170.5M119.5 173.3L119.8 174.8L122.0 176.1L121.7 177.6L122.3 179.4M123.6 176.0L125.1 176.2L125.3 179.0M116.7 172.3L119.5 173.3L123.6 172.9L123.6 176.0M128.7 178.3L129.2 175.2L129.6 174.1L129.6 170.8M129.6 174.1L135.5 174.1L136.1 174.5L136.4 176.2L135.3 177.9L132.4 179.3M135.9 168.6L137.0 169.9L136.7 172.1L135.5 174.1M142.0 172.8L141.1 174.5L141.2 175.6L138.6 177.3L136.4 177.7L136.1 179.2L137.0 180.8L138.6 180.0L141.1 179.6L144.1 179.1L146.2 180.0L146.4 182.6L145.3 184.6L146.2 186.8L144.8 187.0L144.8 189.2L142.0 188.4L140.8 189.6L140.8 192.5L142.8 192.5L139.5 192.6L139.5 199.0L137.3 199.1M134.6 185.4L137.2 185.4L140.8 188.5L142.0 188.4M148.2 182.6L146.4 182.6M148.2 179.4L149.5 179.4L152.6 179.7L152.6 183.0M148.2 182.6L150.5 183.7L151.5 184.7M146.2 186.8L148.2 187.5L148.7 188.8L152.2 188.1M149.8 173.6L149.5 174.6L148.2 176.5L148.2 179.4M153.9 175.3L153.2 174.7L151.1 171.4M152.6 179.7L155.1 179.1L157.0 177.3L153.9 175.4M142.8 192.5L143.9 192.6L146.0 191.1L147.6 190.2L149.4 191.7L147.5 193.5L146.6 195.2L147.0 198.0M139.5 196.6L142.9 197.3L145.4 195.1L146.6 195.2M121.4 156.1L123.1 156.3L122.6 159.3M125.9 155.1L129.0 155.8M131.7 154.8L131.3 153.2L130.8 153.1L132.1 151.0L130.9 150.6L128.6 149.4M131.3 153.2L133.6 152.6L135.6 152.8L135.6 153.5M132.1 151.0L134.6 150.0L136.2 149.5L135.9 147.2M132.4 146.4L133.1 146.5M136.2 149.5L138.8 150.6L141.1 150.9L142.0 149.9L141.8 148.7L141.7 147.1L139.4 146.8M141.1 150.9L140.9 151.4L143.6 151.5L144.6 153.6L145.6 153.7M141.7 147.1L143.2 145.8L144.6 145.4L144.3 144.3L144.5 142.6M144.6 145.4L146.3 145.8L147.0 147.3L146.7 148.6L148.2 148.5L149.2 149.9L152.0 150.5L151.8 151.9L150.9 152.4M145.8 142.1L145.1 140.8L146.7 139.5L145.2 135.8L145.8 135.0L144.9 133.7L146.3 132.9M142.0 136.9L141.8 134.8L139.9 133.6L143.1 133.4L144.9 133.7M134.1 143.0L134.8 140.8L134.5 139.0L136.1 136.6L138.2 134.2L139.9 133.6M143.4 156.3L144.5 156.1M141.0 156.7L143.4 156.3M149.9 159.6L153.5 159.3L155.0 159.3L154.5 157.9L155.0 157.6M152.9 156.4L154.2 156.7L156.1 156.2L157.3 156.2M156.1 156.2L155.1 156.6L155.9 158.2L157.5 158.5M155.0 159.3L155.8 160.7L155.4 161.5L156.8 163.4L157.3 164.0M149.3 162.3L151.2 161.8L152.6 161.2L153.5 159.3M148.8 164.3L149.5 164.5L150.4 163.1L151.4 162.7L152.2 162.8L154.9 164.5L156.4 164.7L157.0 164.3M151.4 162.7L151.2 161.8M159.5 172.0L159.5 170.8L161.4 170.2L161.8 169.0L161.5 168.6L159.9 168.5L159.2 167.6M154.1 171.8L156.0 171.9L159.5 170.8M161.5 168.6L162.0 167.2M160.8 159.3L162.8 158.7L165.2 160.4L164.9 162.1L165.1 163.1L165.6 163.1L166.4 164.3L165.5 167.0M165.1 164.2L168.4 164.1L170.4 162.8L171.4 161.5L171.7 159.8L173.8 159.5M165.2 160.4L167.3 159.9L168.6 159.2L171.7 159.8M160.1 156.1L162.0 156.5L163.6 155.5L164.5 156.4L165.8 155.0L168.2 156.6L168.6 159.2M168.2 156.6L171.1 156.1L172.9 155.4L177.1 155.9L177.1 153.9L178.6 153.8L180.4 152.5L181.6 150.8M173.8 159.5L173.1 157.8L177.1 155.9M157.6 152.8L156.1 151.4L156.7 149.9L158.9 149.1L161.4 149.7L165.4 149.6L164.5 147.5L165.4 147.1L170.1 146.1L171.4 147.0L174.8 147.0L177.0 149.6L179.2 149.5L181.6 150.8M181.6 150.8L184.5 149.6L188.2 150.2L190.9 149.8L193.9 150.5L197.6 150.2L199.9 150.4L201.8 148.7L205.8 147.9L208.6 151.1L211.2 151.5L209.0 154.0L208.7 155.8M181.6 150.8L183.9 152.8L186.7 154.4L187.3 155.6L192.3 156.1L196.4 155.0L196.9 153.9L199.5 152.9L201.9 152.7L199.9 150.4M173.8 159.5L175.8 160.5L176.4 162.4L177.6 163.9L182.0 165.4L184.5 165.4L187.9 165.1L188.7 167.2L189.0 169.0L190.6 168.7L190.9 169.5L192.8 168.2L194.5 169.3M169.6 167.9L171.4 167.5L170.8 165.3L172.6 164.0L173.6 163.4L173.2 162.1L173.2 161.0L175.8 160.5M177.6 163.9L177.1 164.8L182.1 166.3L182.5 165.7M182.1 166.3L182.6 166.5L182.6 169.0L184.5 168.1L184.8 167.2L183.1 166.5L184.5 166.0L187.9 165.1M184.7 169.6L185.3 167.8L186.1 167.4L187.6 165.5M188.7 167.2L188.1 167.8L189.0 169.0M189.0 169.0L189.6 170.0L188.1 171.1L188.4 173.1L189.0 175.2L188.6 176.2M189.6 170.0L190.2 170.5L190.8 171.4L192.5 172.4L193.0 173.6L191.3 173.7L191.0 174.1L191.3 175.2M190.8 171.4L192.0 171.2L192.8 171.0L194.2 173.1L194.2 173.8L193.0 173.6M194.2 173.8L193.2 175.6L192.3 175.9M189.6 178.2L190.8 178.4M195.5 180.8L198.7 179.5L199.2 179.4M195.5 180.8L197.6 181.3L198.8 180.8L200.5 179.6M215.1 183.5L215.1 187.3M204.8 157.4L206.2 156.3L207.6 156.1L208.7 155.8M205.8 158.9L207.2 158.4" fill="none" stroke="#b4bdca" stroke-width="0.35" stroke-linejoin="round"/>
<path d="M156.4 153.6L157.6 152.8L159.2 152.6L160.1 153.7L158.9 154.3L158.4 155.4L159.5 155.7L160.4 156.8L160.1 158.1L160.8 159.3L158.9 159.6L157.6 159.1L157.6 157.8L157.9 157.1L157.0 156.1L156.4 155.0ZM163.4 153.2L164.8 153.0L165.1 154.3L163.9 154.9L163.4 154.1ZM69.8 152.6L72.0 151.6L73.7 152.0L73.9 152.6L72.6 152.7L70.8 152.6ZM72.0 153.6L73.6 153.2L73.9 153.7L73.1 155.0L72.6 156.3L72.1 155.7L72.3 154.6ZM74.2 153.2L76.4 153.2L77.0 154.2L75.9 155.2L75.1 154.8L74.9 153.9ZM74.9 156.3L77.6 155.5L75.4 155.9ZM147.0 181.8L148.2 181.8L148.2 183.3L147.0 183.5L146.8 182.6ZM65.3 147.7L65.9 147.5L66.6 149.5L66.4 149.7L65.6 148.7ZM53.9 141.3L55.8 140.1L58.2 139.7L57.0 141.0L55.1 141.4ZM48.9 137.1L50.8 135.9L53.2 136.2L52.6 137.6L50.1 137.6Z" fill="#f5f5f5"/>

<!-- decorative curves -->
<path d="M4.0 292.0C6.0 291.8 12.3 291.7 16.0 291.0C19.7 290.3 22.7 290.2 26.0 288.0C29.3 285.8 32.4 282.6 35.6 278.0C38.9 273.4 42.5 265.6 45.5 260.4C48.5 255.1 51.1 249.8 53.4 246.5C55.7 243.2 57.0 242.2 59.3 240.6C61.6 238.9 63.9 237.6 67.2 236.6C70.5 235.6 75.2 235.3 79.0 234.7C82.8 234.1 86.2 233.7 90.0 233.0C93.8 232.3 98.0 232.1 101.9 230.3C105.9 228.5 109.8 225.2 113.7 222.4C117.7 219.6 121.6 216.0 125.6 213.5C129.6 211.0 133.6 208.9 137.5 207.5C141.4 206.1 145.4 205.5 149.3 204.8C153.2 204.2 157.9 203.9 161.2 203.6C164.5 203.3 166.7 203.1 169.0 202.8C171.3 202.5 172.7 202.9 175.0 202.0C177.3 201.1 180.4 199.4 183.0 197.5C185.6 195.6 188.2 193.2 190.8 190.5C193.4 187.8 196.1 184.2 198.7 181.6C201.3 179.0 203.9 176.4 206.6 174.7C209.2 173.0 211.6 172.2 214.6 171.4C217.6 170.6 221.1 169.8 224.4 169.8C227.7 169.8 231.3 170.5 234.3 171.4C237.3 172.3 239.6 173.5 242.2 175.0C244.8 176.5 247.2 177.6 250.0 180.5C252.8 183.4 255.9 188.2 258.8 192.5C261.7 196.8 264.7 201.8 267.6 206.5C270.5 211.2 273.5 216.2 276.4 220.5C279.3 224.8 282.3 229.3 285.2 232.6C288.1 235.9 291.1 238.5 294.0 240.3C296.9 242.1 299.8 243.0 302.7 243.6C305.6 244.2 308.6 244.1 311.5 243.7C314.4 243.3 317.4 243.0 320.3 241.4C323.2 239.8 326.1 237.1 329.0 234.0C331.9 230.9 334.9 227.1 337.9 222.7C340.8 218.3 344.7 210.9 346.7 207.4C348.7 203.9 347.8 205.2 350.0 201.5C352.2 197.8 356.7 189.7 360.0 185.5C363.3 181.3 366.7 178.6 370.0 176.5C373.3 174.4 376.7 173.9 380.0 173.2C383.3 172.5 386.7 172.5 390.0 172.2C393.3 171.9 396.9 171.6 400.0 171.3C403.1 171.0 405.9 170.6 408.8 170.2C411.7 169.8 415.0 169.8 417.6 169.1C420.2 168.4 421.6 167.2 424.2 166.3C426.8 165.4 429.7 164.1 433.0 163.4C436.3 162.7 440.3 162.3 444.0 161.9C447.7 161.5 451.3 161.1 455.0 160.8C458.7 160.5 462.7 160.5 466.0 160.1C469.3 159.7 472.3 159.2 474.7 158.6C477.1 157.9 477.8 157.8 480.5 156.2C483.2 154.6 487.8 151.5 491.0 149.0C494.2 146.5 497.1 143.9 500.0 141.2C502.9 138.4 505.8 135.1 508.7 132.5C511.6 129.9 514.6 127.0 517.5 125.4C520.4 123.8 523.0 123.4 526.2 122.8C529.5 122.2 535.2 122.1 537.0 121.9" fill="none" stroke="url(#fadeG)" stroke-width="1.8" stroke-linecap="round"/>
<path d="M4.0 292.0C6.0 291.3 12.3 290.0 16.0 288.0C19.7 286.0 22.7 284.0 26.0 280.0C29.3 276.0 32.8 269.9 36.0 264.0C39.2 258.1 42.2 250.4 45.5 244.5C48.8 238.6 52.2 232.9 55.5 228.5C58.8 224.1 61.8 220.6 65.0 218.0C68.2 215.4 72.0 213.9 75.0 213.0C78.0 212.1 80.5 212.4 83.0 212.3C85.5 212.2 87.5 212.2 90.0 212.6C92.5 212.9 95.4 213.4 98.0 214.4C100.6 215.4 103.2 216.9 105.8 218.4C108.4 219.9 110.4 221.2 113.7 223.3C117.0 225.5 121.6 229.0 125.6 231.3C129.6 233.6 133.6 235.8 137.5 237.2C141.4 238.5 145.4 239.1 149.3 239.4C153.2 239.7 157.6 239.7 161.2 239.2C164.8 238.7 168.4 237.2 171.0 236.3C173.6 235.4 175.0 234.7 177.0 233.5C179.0 232.3 180.7 231.7 183.0 229.0C185.3 226.3 188.2 221.1 190.8 217.2C193.4 213.3 196.1 208.8 198.7 205.4C201.3 202.0 203.9 199.0 206.6 196.5C209.2 194.0 211.9 192.1 214.6 190.5C217.2 188.9 219.9 187.9 222.5 187.2C225.1 186.5 227.8 186.2 230.4 186.2C233.0 186.2 236.0 186.7 238.3 187.2C240.6 187.7 242.1 188.5 244.0 189.3C245.9 190.1 247.5 189.6 250.0 192.0C252.5 194.4 255.9 198.8 258.8 203.5C261.7 208.2 264.7 214.8 267.6 220.5C270.5 226.2 273.5 232.7 276.4 238.0C279.3 243.3 282.3 248.5 285.2 252.4C288.1 256.3 291.1 259.1 294.0 261.2C296.9 263.3 299.8 264.3 302.7 265.0C305.6 265.7 308.6 265.8 311.5 265.6C314.4 265.4 317.4 264.7 320.3 264.0C323.2 263.3 326.1 262.4 329.0 261.2C331.9 260.0 334.9 258.6 337.9 256.8C340.8 255.0 343.0 252.5 346.7 250.2C350.4 247.9 354.4 245.4 360.0 243.0C365.6 240.6 373.3 238.2 380.0 236.0C386.7 233.8 394.7 231.9 400.0 230.0C405.3 228.1 409.1 226.5 412.0 224.5C414.9 222.5 415.6 220.8 417.6 218.0C419.6 215.2 421.6 211.3 424.2 208.0C426.8 204.7 430.4 200.5 433.0 198.1C435.6 195.7 437.0 195.0 439.6 193.7C442.2 192.4 445.5 191.1 448.4 190.4C451.3 189.7 454.4 189.5 457.0 189.3C459.6 189.1 461.5 189.4 463.7 189.0C465.9 188.6 467.8 188.4 470.3 187.1C472.9 185.8 476.4 183.6 479.0 181.0C481.6 178.4 483.9 174.5 485.7 171.8C487.4 169.1 488.0 168.1 489.5 165.0C491.0 161.9 492.9 157.8 494.6 153.5C496.3 149.2 498.2 144.2 499.9 139.5C501.6 134.8 503.2 129.5 505.0 125.4C506.8 121.3 508.3 118.4 510.4 114.9C512.5 111.4 515.1 107.2 517.5 104.3C519.9 101.4 522.8 98.8 524.5 97.3C526.2 95.8 527.4 95.8 528.0 95.5" fill="none" stroke="url(#fadeY)" stroke-width="1.9" stroke-linecap="round"/>

<!-- CAGR -->
<text x="29" y="261.4" font-size="18.2" font-weight="bold" fill="#a0a0a0" textLength="62.3" lengthAdjust="spacingAndGlyphs">CAGR of</text>
<text y="298.7" fill="#2e75b6" stroke="#2e75b6" stroke-linejoin="round"><tspan x="28.2" font-size="41.6" stroke-width="1.1" textLength="56" lengthAdjust="spacingAndGlyphs">6.1</tspan><tspan x="86.2" y="299" font-size="25" stroke-width="0.6" textLength="17.5" lengthAdjust="spacingAndGlyphs">%</tspan></text>

<!-- chart -->
<rect x="293" y="360" width="570" height="1.2" fill="#d9d9d9"/>
<rect x="348.5" y="225.0" width="78.5" height="13.0" fill="#7f7f7f"/><rect x="348.5" y="238.0" width="78.5" height="49.0" fill="#fb9645"/><rect x="348.5" y="287.0" width="78.5" height="33.5" fill="#3b78b6"/><rect x="348.25" y="320.75" width="79.0" height="39.75" fill="#b73c31" stroke="#b5241a" stroke-width="1"/><rect x="538.5" y="215.0" width="78.5" height="14.0" fill="#7f7f7f"/><rect x="538.5" y="229.0" width="78.5" height="53.0" fill="#fb9645"/><rect x="538.5" y="282.0" width="78.5" height="36.0" fill="#3b78b6"/><rect x="538.25" y="318.25" width="79.0" height="42.25" fill="#b73c31" stroke="#b5241a" stroke-width="1"/><rect x="728.5" y="164.0" width="78.5" height="17.0" fill="#7f7f7f"/><rect x="728.5" y="181.0" width="78.5" height="74.5" fill="#fb9645"/><rect x="728.5" y="255.5" width="78.5" height="45.5" fill="#3b78b6"/><rect x="728.25" y="301.25" width="79.0" height="59.25" fill="#b73c31" stroke="#b5241a" stroke-width="1"/>
<line x1="617" y1="215.5" x2="722" y2="166" stroke="#d9d9d9" stroke-width="1"/>
<polygon points="718,161.5 730.4,161.5 723.2,170.4" fill="#d2d2d2"/>
<ellipse cx="676.2" cy="191.2" rx="26.7" ry="24.9" fill="#fe800d"/>
<text y="196.7" font-weight="bold" fill="#fffaf0"><tspan x="656.7" font-size="17" textLength="27" lengthAdjust="spacingAndGlyphs">6.1</tspan><tspan x="683.9" font-size="12.4" font-weight="normal" stroke="#fff" stroke-width="0.35" textLength="9.2" lengthAdjust="spacingAndGlyphs">%</tspan></text>

<!-- axis labels -->
<g font-size="16" fill="#151515" stroke="#151515" stroke-width="0.15">
<text x="367.8" y="388.3" textLength="40" lengthAdjust="spacingAndGlyphs">2022</text>
<text x="557.8" y="388.3" textLength="40" lengthAdjust="spacingAndGlyphs">2023</text>
<text x="747.8" y="388.3" textLength="40" lengthAdjust="spacingAndGlyphs">2028</text>
</g>

<!-- legend -->
<rect x="394.8" y="411.3" width="9.6" height="9.2" fill="#b93b30" stroke="#c62a20" stroke-width="0.9"/>
<rect x="530.1" y="412" width="8.7" height="8.5" fill="#3b78b6"/>
<rect x="612.9" y="412" width="8.7" height="8.5" fill="#fb9645"/>
<rect x="726.3" y="412" width="8.7" height="8.5" fill="#7f7f7f"/>
<g font-size="15.2" fill="#151515" stroke="#151515" stroke-width="0.15">
<text x="407.8" y="421.2" textLength="103" lengthAdjust="spacingAndGlyphs">North America</text>
<text x="542.8" y="421.2" textLength="50.6" lengthAdjust="spacingAndGlyphs">Europe</text>
<text x="625" y="421.2" textLength="82.6" lengthAdjust="spacingAndGlyphs">Asia Pacific</text>
<text x="738.8" y="421.2" textLength="34" lengthAdjust="spacingAndGlyphs">RoW</text>
</g>
</svg>

<div class="para">
<div style="top:316px">The global sensor testing</div>
<div style="top:337px">market is expected to be</div>
<div style="top:357px">worth USD 2.4 billion by</div>
<div style="top:378px">2028, growing at a CAGR of</div>
<div style="top:399px">6.1% during the forecast</div>
<div style="top:420px" class="last">period.</div>
</div>
</body>
</html>
